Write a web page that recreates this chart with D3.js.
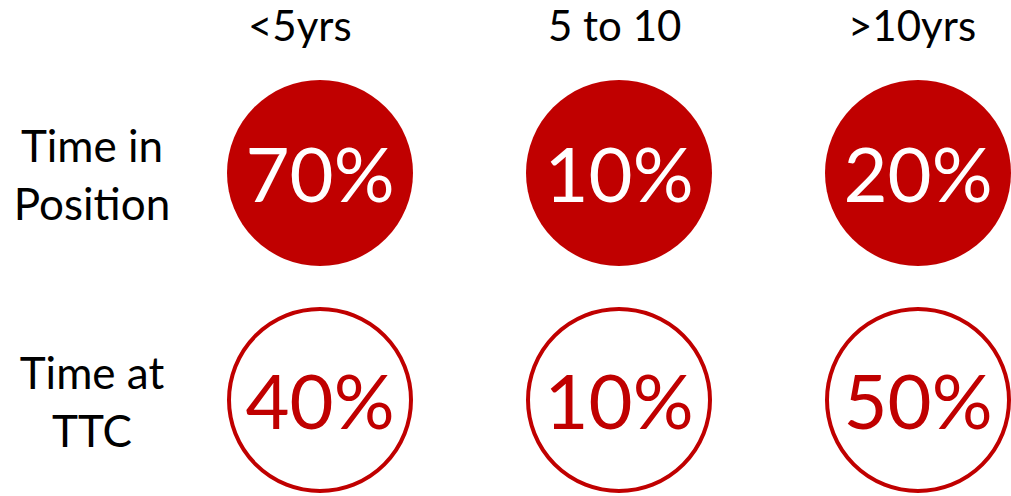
<!DOCTYPE html>
<html>
<head>
<meta charset="utf-8">
<script src="https://cdn.jsdelivr.net/npm/d3@7"></script>
<style>
  html, body { margin: 0; padding: 0; background: #fff; }
  svg { display: block; }
  text { font-family: Lato, "Open Sans", sans-serif; }
</style>
</head>
<body>
<svg id="chart" width="1011" height="496"></svg>
<script>
// Tenure groups (columns) and measures (rows)
const groups = ["<5yrs", "5 to 10", ">10yrs"];
const measures = ["Time in Position", "Time at TTC"];
const measureLines = [["Time in", "Position"], ["Time at", "TTC"]];

// Share of staff in each tenure group, per measure (%)
const timeInPosition = [70, 10, 20];
const timeAtTTC = [40, 10, 50];
const seriesValues = [timeInPosition, timeAtTTC];

const RED = "#C00000";
const svg = d3.select("#chart");

// Circle centres
const x = d3.scalePoint().domain(groups).range([320, 918]);
const y = d3.scalePoint().domain(measures).range([173, 400]);
// Header text boxes start on an even 300px grid
const xHeader = d3.scalePoint().domain(groups).range([248, 848]);
const r = 93;

// Column headers
svg.selectAll("text.header")
  .data(groups)
  .join("text")
  .attr("class", "header")
  .attr("x", d => xHeader(d))
  .attr("y", 41)
  .attr("text-anchor", "start")
  .attr("font-size", 42)
  .attr("fill", "#000")
  .text(d => d);

// Row labels (two lines each)
measures.forEach((m, i) => {
  svg.append("text")
    .attr("class", "row-label")
    .attr("text-anchor", "middle")
    .attr("font-size", 44)
    .attr("fill", "#000")
    .selectAll("tspan")
    .data(measureLines[i])
    .join("tspan")
    .attr("x", 92)
    .attr("y", (d, k) => y(m) + 18 + (k - 0.5) * 58)
    .text(d => d);
});

// Circles: first row filled, second row outlined
const cells = [];
measures.forEach((m, i) => {
  groups.forEach((g, j) => {
    cells.push({ measure: m, group: g, value: seriesValues[i][j], filled: i === 0 });
  });
});

const cell = svg.selectAll("g.cell")
  .data(cells)
  .join("g")
  .attr("class", "cell")
  .attr("transform", d => `translate(${x(d.group)},${y(d.measure)})`);

cell.append("circle")
  .attr("r", d => d.filled ? r : r - 2)
  .attr("fill", d => d.filled ? RED : "#fff")
  .attr("stroke", d => d.filled ? "none" : RED)
  .attr("stroke-width", 4);

cell.append("text")
  .attr("text-anchor", "middle")
  .attr("y", 29)
  .attr("font-size", 76)
  .attr("fill", d => d.filled ? "#fff" : RED)
  .text(d => d.value + "%");
</script>
</body>
</html>
